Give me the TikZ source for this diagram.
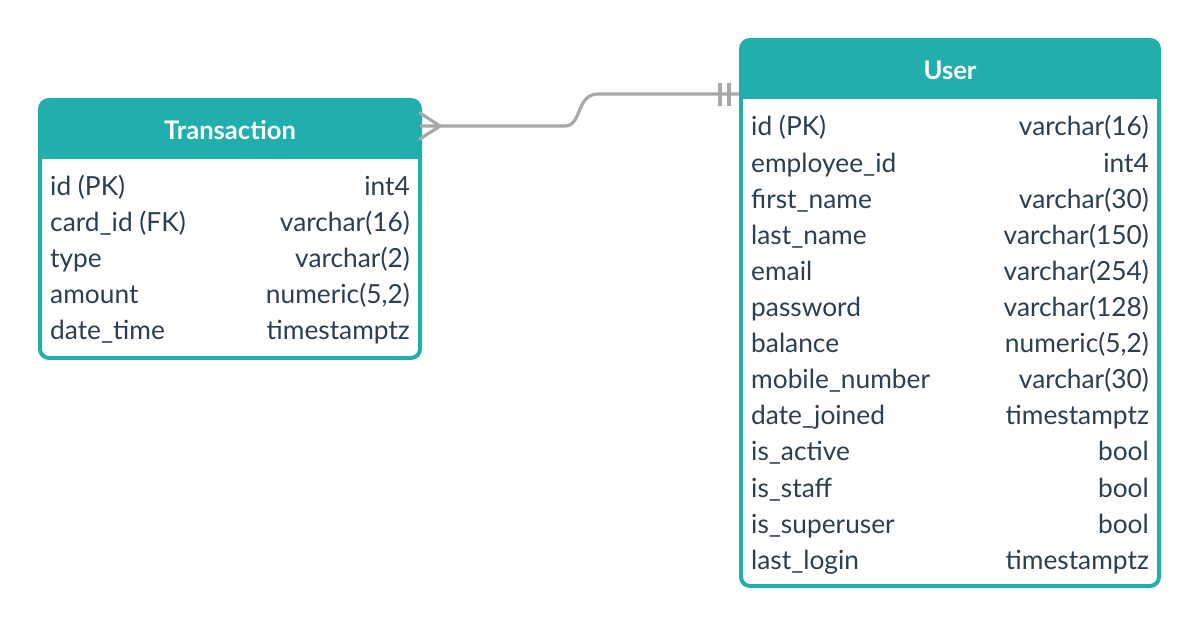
\documentclass[tikz,border=0pt]{standalone}
\usepackage{fontspec}
\setmainfont{Lato}
\usetikzlibrary{calc}
\definecolor{teal}{RGB}{34,174,172}
\definecolor{ink}{RGB}{44,62,80}
\definecolor{conngray}{RGB}{168,168,168}
\tikzset{
  frame/.style={draw=teal, line width=4pt, rounded corners=9pt, inner sep=0pt},
  headtxt/.style={text=white, font=\fontsize{25.6}{30}\selectfont\bfseries, anchor=base, inner sep=0pt},
  fname/.style={text=ink, font=\fontsize{26.3}{30}\selectfont, anchor=base west, inner sep=0pt},
  ftype/.style={text=ink, font=\fontsize{26.3}{30}\selectfont, anchor=base east, inner sep=0pt},
  conn/.style={draw=conngray, line width=3.2pt, line cap=round, line join=round},
}
\begin{document}
\begin{tikzpicture}[x=1pt,y=-1pt]
\useasboundingbox (0,0) rectangle (1200,628);
% ---------- Transaction table ----------
\fill[white, rounded corners=9pt] (40,100) rectangle (420,358);
\fill[teal, rounded corners=9pt] (40,100) rectangle (420,140);
\fill[teal] (40,125) rectangle (420,159);
\node[frame, minimum width=380pt, minimum height=258pt] (trans) at (230,229) {};
\node[headtxt] (transH) at (230,140) {Transaction};
\foreach \i/\n/\t in {0/{id (PK)}/{int4}, 1/{card\_id (FK)}/{varchar(16)}, 2/{type}/{varchar(2)}, 3/{amount}/{numeric(5,2)}, 4/{date\_time}/{timestamptz}}{
  \node[fname] (tn\i) at (50,196+36*\i) {\n};
  \node[ftype] (tt\i) at (410,196+36*\i) {\t};
}
% ---------- User table ----------
\fill[white, rounded corners=9pt] (741,40) rectangle (1159,586);
\fill[teal, rounded corners=9pt] (741,40) rectangle (1159,80);
\fill[teal] (741,65) rectangle (1159,99);
\node[frame, minimum width=418pt, minimum height=546pt] (user) at (950,313) {};
\node[headtxt] (userH) at (950,80) {User};
\foreach \i/\n/\t in {0/{id (PK)}/{varchar(16)}, 1/{employee\_id}/{int4}, 2/{first\_name}/{varchar(30)}, 3/{last\_name}/{varchar(150)}, 4/{email}/{varchar(254)}, 5/{password}/{varchar(128)}, 6/{balance}/{numeric(5,2)}, 7/{mobile\_number}/{varchar(30)}, 8/{date\_joined}/{timestamptz}, 9/{is\_active}/{bool}, 10/{is\_staff}/{bool}, 11/{is\_superuser}/{bool}, 12/{last\_login}/{timestamptz}}{
  \node[fname] (un\i) at (751,136+36.1*\i) {\n};
  \node[ftype] (ut\i) at (1149,136+36.1*\i) {\t};
}
% ---------- Connector ----------
\coordinate (cfT) at (420,113);
\coordinate (cfM) at (420,126);
\coordinate (cfB) at (420,139);
\coordinate (cfTip) at (440,126);
\coordinate (bendA) at (565,126);
\coordinate (bendB) at (598,94);
\coordinate (uEnd) at (739,94);
\coordinate (bar1T) at (720,83);
\coordinate (bar1B) at (720,106);
\coordinate (bar2T) at (729,83);
\coordinate (bar2B) at (729,106);
\draw[conn] (cfT) -- (cfTip) -- (cfB);
\draw[conn, line cap=butt] (cfM) -- (bendA) .. controls (582,126) and (576,94) .. (bendB) -- (uEnd);
\draw[conn, line cap=butt] (bar1T) -- (bar1B);
\draw[conn, line cap=butt] (bar2T) -- (bar2B);
\end{tikzpicture}
\end{document}
